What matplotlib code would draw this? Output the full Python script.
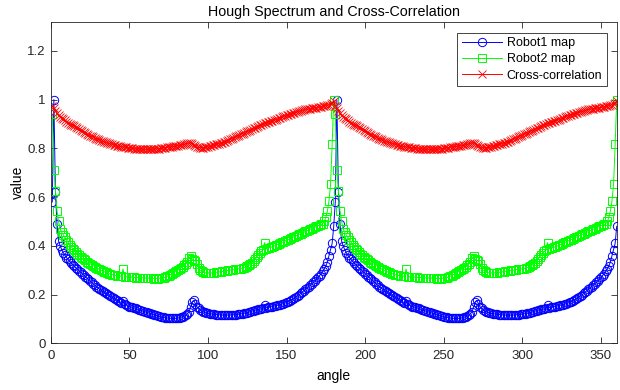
import matplotlib
matplotlib.use("Agg")
import matplotlib.pyplot as plt
import numpy as np

plt.rcParams['font.family'] = ['Liberation Sans', 'DejaVu Sans']

# Hough spectra over one half turn (angles 1..180); the spectrum repeats every 180 degrees
robot1_half = [
    0.580, 1.000, 0.620, 0.490, 0.420, 0.400, 0.385, 0.372, 0.362, 0.352,
    0.344, 0.337, 0.330, 0.323, 0.316, 0.310, 0.304, 0.298, 0.292, 0.286,
    0.280, 0.274, 0.268, 0.262, 0.256, 0.250, 0.244, 0.238, 0.233, 0.228,
    0.223, 0.218, 0.213, 0.209, 0.205, 0.201, 0.197, 0.193, 0.189, 0.185,
    0.181, 0.177, 0.173, 0.170, 0.167, 0.174, 0.160, 0.157, 0.154, 0.151,
    0.149, 0.147, 0.145, 0.143, 0.140, 0.138, 0.135, 0.133, 0.131, 0.129,
    0.127, 0.125, 0.123, 0.121, 0.119, 0.117, 0.115, 0.113, 0.111, 0.109,
    0.107, 0.106, 0.105, 0.104, 0.103, 0.103, 0.102, 0.102, 0.102, 0.103,
    0.104, 0.105, 0.107, 0.109, 0.112, 0.116, 0.122, 0.130, 0.150, 0.168,
    0.176, 0.163, 0.150, 0.143, 0.138, 0.133, 0.130, 0.127, 0.125, 0.123,
    0.122, 0.121, 0.120, 0.119, 0.118, 0.118, 0.117, 0.117, 0.116, 0.116,
    0.116, 0.116, 0.116, 0.116, 0.117, 0.117, 0.118, 0.118, 0.119, 0.120,
    0.121, 0.122, 0.123, 0.124, 0.126, 0.128, 0.130, 0.132, 0.134, 0.136,
    0.138, 0.139, 0.140, 0.141, 0.143, 0.158, 0.146, 0.147, 0.149, 0.150,
    0.151, 0.153, 0.154, 0.156, 0.157, 0.159, 0.161, 0.163, 0.165, 0.168,
    0.171, 0.174, 0.177, 0.181, 0.185, 0.190, 0.195, 0.200, 0.205, 0.210,
    0.216, 0.221, 0.227, 0.232, 0.238, 0.244, 0.250, 0.257, 0.264, 0.271,
    0.278, 0.286, 0.295, 0.305, 0.318, 0.335, 0.360, 0.385, 0.410, 0.480,
]

robot2_half = [
    0.940, 0.710, 0.625, 0.545, 0.500, 0.470, 0.455, 0.445, 0.435, 0.425,
    0.415, 0.405, 0.397, 0.389, 0.381, 0.374, 0.367, 0.361, 0.355, 0.350,
    0.345, 0.340, 0.335, 0.331, 0.327, 0.323, 0.319, 0.315, 0.311, 0.307,
    0.303, 0.300, 0.297, 0.294, 0.291, 0.288, 0.286, 0.284, 0.282, 0.280,
    0.279, 0.278, 0.277, 0.276, 0.275, 0.305, 0.274, 0.273, 0.273, 0.272,
    0.272, 0.271, 0.271, 0.270, 0.270, 0.270, 0.269, 0.269, 0.269, 0.268,
    0.268, 0.268, 0.267, 0.267, 0.267, 0.266, 0.266, 0.266, 0.267, 0.268,
    0.269, 0.270, 0.272, 0.275, 0.278, 0.281, 0.285, 0.289, 0.293, 0.297,
    0.301, 0.305, 0.310, 0.315, 0.320, 0.327, 0.335, 0.350, 0.358, 0.345,
    0.340, 0.338, 0.325, 0.310, 0.300, 0.295, 0.292, 0.290, 0.289, 0.289,
    0.289, 0.289, 0.290, 0.290, 0.291, 0.292, 0.293, 0.294, 0.295, 0.296,
    0.297, 0.298, 0.299, 0.300, 0.301, 0.302, 0.303, 0.304, 0.305, 0.306,
    0.307, 0.309, 0.311, 0.313, 0.316, 0.320, 0.325, 0.331, 0.338, 0.346,
    0.354, 0.362, 0.370, 0.377, 0.383, 0.413, 0.388, 0.390, 0.392, 0.394,
    0.396, 0.399, 0.402, 0.405, 0.408, 0.411, 0.414, 0.417, 0.420, 0.423,
    0.426, 0.429, 0.432, 0.435, 0.438, 0.441, 0.444, 0.447, 0.450, 0.453,
    0.456, 0.459, 0.462, 0.465, 0.468, 0.471, 0.474, 0.477, 0.480, 0.483,
    0.486, 0.488, 0.491, 0.500, 0.517, 0.544, 0.585, 0.653, 0.816, 1.000,
]

xcorr_half = [
    0.975, 0.965, 0.955, 0.945, 0.935, 0.930, 0.925, 0.920, 0.915, 0.910,
    0.906, 0.902, 0.898, 0.894, 0.890, 0.886, 0.882, 0.878, 0.874, 0.870,
    0.866, 0.862, 0.858, 0.855, 0.852, 0.849, 0.846, 0.843, 0.840, 0.837,
    0.834, 0.831, 0.829, 0.827, 0.825, 0.823, 0.821, 0.819, 0.817, 0.815,
    0.813, 0.811, 0.810, 0.808, 0.807, 0.806, 0.805, 0.804, 0.803, 0.802,
    0.801, 0.800, 0.799, 0.798, 0.798, 0.797, 0.797, 0.796, 0.796, 0.796,
    0.796, 0.796, 0.796, 0.796, 0.797, 0.797, 0.798, 0.798, 0.799, 0.800,
    0.801, 0.802, 0.803, 0.804, 0.805, 0.806, 0.807, 0.808, 0.809, 0.810,
    0.811, 0.812, 0.813, 0.815, 0.817, 0.819, 0.821, 0.823, 0.822, 0.818,
    0.813, 0.809, 0.806, 0.804, 0.803, 0.803, 0.803, 0.804, 0.805, 0.806,
    0.808, 0.810, 0.812, 0.814, 0.816, 0.818, 0.820, 0.822, 0.824, 0.826,
    0.828, 0.831, 0.834, 0.837, 0.840, 0.843, 0.846, 0.849, 0.852, 0.855,
    0.858, 0.861, 0.864, 0.867, 0.870, 0.873, 0.876, 0.879, 0.882, 0.885,
    0.888, 0.891, 0.894, 0.897, 0.900, 0.903, 0.906, 0.908, 0.910, 0.912,
    0.914, 0.916, 0.918, 0.920, 0.923, 0.926, 0.929, 0.932, 0.934, 0.936,
    0.938, 0.940, 0.942, 0.944, 0.946, 0.948, 0.950, 0.952, 0.954, 0.956,
    0.958, 0.960, 0.961, 0.962, 0.963, 0.964, 0.965, 0.966, 0.967, 0.968,
    0.969, 0.970, 0.972, 0.974, 0.976, 0.978, 0.980, 0.983, 0.988, 0.995,
]

# full turn: 1..360 degrees
robot1 = robot1_half + robot1_half
robot2 = robot2_half + robot2_half
xcorr = xcorr_half + xcorr_half
angles = np.arange(1, len(robot1) + 1)

fig = plt.figure(figsize=(6.2, 3.9), dpi=100)
ax = fig.add_axes([0.0818, 0.1197, 0.9129, 0.8247])

ax.plot(angles, robot1, color=(0, 0, 1), marker='o', markersize=6, linewidth=0.7,
        markerfacecolor='none', markeredgewidth=0.7, label='Robot1 map')
ax.plot(angles, robot2, color=(0, 1, 0), marker='s', markersize=6, linewidth=0.7,
        markerfacecolor='none', markeredgewidth=0.7, label='Robot2 map')
ax.plot(angles, xcorr, color=(1, 0, 0), marker='x', markersize=6, linewidth=0.7,
        markeredgewidth=0.6, label='Cross-correlation')

ax.set_xlim(0, 360)
ax.set_ylim(0, 1.32)
ax.set_xticks([0, 50, 100, 150, 200, 250, 300, 350])
ax.set_yticks([0, 0.2, 0.4, 0.6, 0.8, 1, 1.2])
ax.set_yticklabels(['0', '0.2', '0.4', '0.6', '0.8', '1', '1.2'])
ax.tick_params(direction='in', top=True, right=True, length=4, width=0.6,
               labelsize=9.5, colors='#262626')
ax.tick_params(axis='x', pad=5)
for s in ax.spines.values():
    s.set_color('#262626')
    s.set_linewidth(0.6)

ax.set_title('Hough Spectrum and Cross-Correlation', fontsize=10.3, pad=4)
ax.set_xlabel('angle', fontsize=10, labelpad=5)
ax.set_ylabel('value', fontsize=10, labelpad=2)

leg = ax.legend(loc='upper right', bbox_to_anchor=(0.982, 0.966), fontsize=9,
                numpoints=1, handlelength=3.2, fancybox=False, framealpha=1,
                edgecolor='#262626', borderpad=0.35, labelspacing=0.35,
                handletextpad=0.4, borderaxespad=0)
leg.get_frame().set_linewidth(0.6)

fig.savefig('out.png', dpi=100)
